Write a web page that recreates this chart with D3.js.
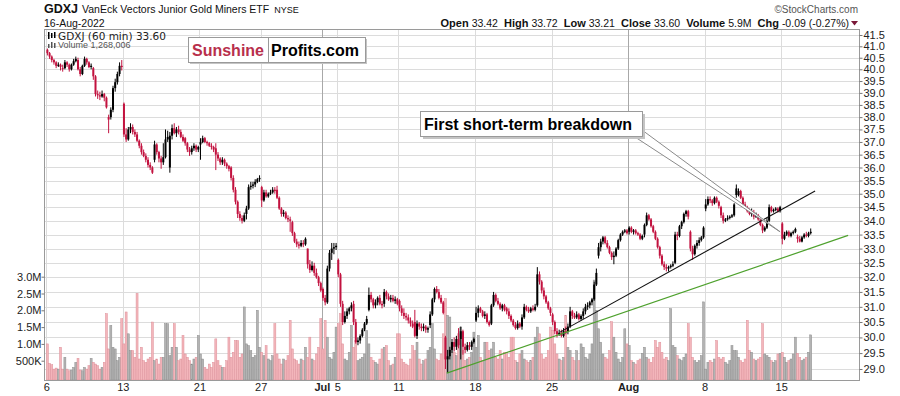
<!DOCTYPE html>
<html>
<head>
<meta charset="utf-8">
<script src="https://cdn.jsdelivr.net/npm/d3@7"></script>
<style>
  body { margin: 0; background: #fff; }
  svg { display: block; font-family: "Liberation Sans", Arial, sans-serif; }
</style>
</head>
<body>
<svg id="chart" width="900" height="396"></svg>
<script>
// GDXJ 60 min bars, 7 bars per trading day, 6-Jun-2022 .. 16-Aug-2022 (50 days)
var opens = [
  40.85, 40.7, 40.55, 40.4, 40.3, 40.15, 40.2,
  40.05, 40.05, 40.3, 40.2, 40.0, 40.2, 40.35,
  40.4, 40.0, 39.8, 40.15, 40.45, 40.3, 40.1,
  40.05, 39.7, 38.95, 38.9, 38.85, 38.95, 38.8,
  37.9, 38.0, 38.3, 39.2, 39.45, 39.8, 40.15,
  38.55, 37.3, 37.1, 37.5, 37.6, 37.4, 37.3,
  37.05, 36.85, 36.6, 36.45, 36.3, 36.1, 36.0,
  36.3, 36.9, 36.6, 36.35, 36.2, 36.4, 37.1,
  36.0, 37.25, 37.55, 37.35, 37.5, 37.4, 37.2,
  37.15, 36.95, 36.7, 36.6, 36.75, 36.85, 36.7,
  36.9, 37.0, 37.15, 37.0, 36.95, 36.85, 36.8,
  36.75, 36.5, 36.35, 36.2, 36.3, 36.15, 36.05,
  36.0, 35.6, 35.15, 34.7, 34.25, 34.1, 34.0,
  34.25, 34.45, 35.25, 35.3, 35.35, 35.45, 35.55,
  35.25, 34.75, 35.05, 34.9, 35.0, 35.05, 35.15,
  35.15, 34.85, 34.45, 34.25, 34.3, 34.1, 34.05,
  33.95, 33.55, 33.25, 33.15, 33.1, 33.2, 33.15,
  33.0, 32.45, 32.25, 32.4, 32.15, 32.0, 31.8,
  31.6, 31.3, 31.15, 32.3, 32.85, 33.0, 33.05,
  32.6, 32.1, 31.1, 30.5, 30.7, 30.85, 30.95,
  31.1, 30.5, 29.85, 29.9, 30.05, 30.25, 30.45,
  30.9, 31.4, 31.25, 31.05, 31.15, 31.3, 31.1,
  31.1, 31.5, 31.35, 31.25, 31.3, 31.2, 31.25,
  31.2, 30.95, 30.8, 30.7, 30.65, 30.55, 30.45,
  30.5, 30.05, 30.45, 30.35, 30.3, 30.35, 30.25,
  30.4, 30.75, 31.25, 31.6, 31.5, 31.3, 31.15,
  30.0, 29.3, 29.4, 29.6, 29.85, 29.7, 29.95,
  29.95, 30.2, 29.7, 29.6, 29.75, 29.7, 29.85,
  30.55, 30.8, 30.95, 30.85, 30.7, 30.75, 30.5,
  30.45, 31.05, 31.4, 31.2, 31.1, 30.95, 31.05,
  30.95, 30.85, 30.7, 30.55, 30.4, 30.3, 30.45,
  30.35, 30.65, 31.0, 30.9, 30.85, 30.95, 30.9,
  31.05, 32.1, 31.85, 31.55, 31.35, 31.15, 30.95,
  30.75, 30.5, 30.2, 30.1, 30.15, 30.05, 30.2,
  30.2, 30.35, 30.85, 30.7, 30.65, 30.75, 30.6,
  30.7, 30.85, 31.0, 31.05, 31.15, 31.25, 31.75,
  32.75, 33.05, 33.25, 33.4, 33.2, 33.05, 32.85,
  32.7, 32.75, 33.0, 33.3, 33.5, 33.6, 33.65,
  33.6, 33.75, 33.6, 33.65, 33.55, 33.5, 33.35,
  33.5, 33.85, 34.2, 34.05, 33.8, 33.6, 33.35,
  33.05, 32.75, 32.45, 32.35, 32.3, 32.35, 32.4,
  32.5, 33.5, 33.45, 33.8, 33.95, 34.25, 34.35,
  33.6, 33.0, 32.8, 33.1, 33.2, 33.3, 33.4,
  34.45, 34.6, 34.8, 34.75, 34.65, 34.85, 34.7,
  34.5, 34.2, 34.0, 34.05, 34.1, 34.15, 34.2,
  35.2, 34.95, 35.1, 34.85, 34.6, 34.5, 34.35,
  34.25, 34.3, 34.15, 34.2, 34.05, 33.85, 33.65,
  33.75, 34.0, 34.5, 34.35, 34.4, 34.45, 34.35,
  33.9, 33.35, 33.5, 33.6, 33.45, 33.55, 33.6,
  33.42, 33.35, 33.25, 33.4, 33.5, 33.45, 33.55
]
var highs = [
  40.9, 40.75, 40.6, 40.45, 40.35, 40.3, 40.25,
  40.2, 40.4, 40.35, 40.25, 40.25, 40.45, 40.55,
  40.5, 40.1, 40.2, 40.55, 40.5, 40.35, 40.25,
  40.1, 39.75, 39.1, 39.05, 39.1, 39.0, 38.85,
  38.1, 38.4, 39.3, 39.6, 39.9, 40.3, 40.4,
  38.6, 37.55, 37.6, 37.75, 37.7, 37.5, 37.4,
  37.1, 36.95, 36.7, 36.55, 36.4, 36.2, 36.05,
  37.05, 36.95, 36.65, 36.45, 36.95, 37.5, 37.45,
  37.4, 37.7, 37.75, 37.6, 37.65, 37.5, 37.3,
  37.2, 37.0, 36.8, 36.85, 36.95, 36.9, 36.85,
  37.15, 37.25, 37.2, 37.05, 37.0, 36.95, 36.85,
  36.95, 36.6, 36.4, 36.4, 36.35, 36.2, 36.1,
  36.05, 35.7, 35.25, 34.75, 34.35, 34.2, 34.3,
  34.55, 35.35, 35.45, 35.45, 35.55, 35.6, 35.7,
  35.3, 35.15, 35.15, 35.05, 35.15, 35.25, 35.25,
  35.3, 34.9, 34.5, 34.4, 34.35, 34.2, 34.15,
  34.0, 33.6, 33.35, 33.25, 33.3, 33.3, 33.4,
  33.0, 32.6, 32.55, 32.5, 32.3, 32.05, 31.85,
  31.65, 31.4, 32.4, 32.95, 33.2, 33.2, 33.2,
  32.65, 32.15, 31.2, 30.85, 30.95, 31.0, 31.15,
  31.2, 30.6, 30.0, 30.1, 30.3, 30.5, 30.7,
  31.65, 31.5, 31.3, 31.25, 31.35, 31.4, 31.2,
  31.6, 31.55, 31.45, 31.4, 31.4, 31.35, 31.3,
  31.25, 31.05, 30.95, 30.8, 30.75, 30.65, 30.55,
  30.9, 30.55, 30.5, 30.45, 30.45, 30.4, 30.35,
  30.85, 31.3, 31.65, 31.7, 31.6, 31.4, 31.2,
  30.05, 29.6, 29.7, 29.95, 30.0, 30.05, 30.3,
  30.35, 30.25, 29.8, 29.85, 29.85, 29.9, 30.0,
  31.0, 31.05, 31.0, 30.9, 30.85, 30.8, 30.55,
  31.1, 31.5, 31.45, 31.3, 31.15, 31.1, 31.1,
  31.0, 30.95, 30.75, 30.6, 30.5, 30.55, 30.5,
  30.75, 31.1, 31.05, 31.0, 31.0, 31.05, 31.1,
  32.35, 32.2, 31.9, 31.65, 31.4, 31.2, 31.0,
  30.8, 30.55, 30.3, 30.25, 30.25, 30.3, 30.35,
  30.45, 31.0, 30.9, 30.8, 30.85, 30.8, 30.75,
  30.95, 31.1, 31.15, 31.2, 31.3, 31.85, 32.3,
  33.2, 33.35, 33.45, 33.45, 33.3, 33.1, 32.9,
  32.9, 33.05, 33.35, 33.55, 33.65, 33.7, 33.7,
  33.8, 33.8, 33.7, 33.7, 33.6, 33.55, 33.5,
  33.9, 34.3, 34.25, 34.1, 33.85, 33.65, 33.4,
  33.1, 32.8, 32.55, 32.45, 32.4, 32.45, 32.55,
  33.6, 33.6, 33.85, 34.0, 34.3, 34.4, 34.4,
  33.65, 33.1, 33.15, 33.3, 33.4, 33.45, 33.8,
  34.8, 34.9, 34.9, 34.8, 34.9, 34.9, 34.75,
  34.55, 34.3, 34.1, 34.2, 34.2, 34.25, 34.65,
  35.35, 35.2, 35.15, 34.9, 34.7, 34.55, 34.45,
  34.45, 34.4, 34.3, 34.25, 34.1, 33.9, 33.8,
  34.1, 34.6, 34.55, 34.45, 34.5, 34.5, 34.55,
  33.95, 33.6, 33.65, 33.65, 33.6, 33.65, 33.75,
  33.5, 33.45, 33.45, 33.55, 33.6, 33.6, 33.72
]
var lows = [
  40.6, 40.45, 40.3, 40.2, 40.05, 40.1, 39.95,
  39.9, 40.0, 40.1, 39.9, 39.95, 40.15, 40.3,
  39.95, 39.7, 39.75, 40.1, 40.2, 40.05, 40.0,
  39.55, 38.85, 38.75, 38.7, 38.8, 38.65, 38.35,
  37.35, 37.9, 38.2, 39.05, 39.35, 39.7, 39.95,
  37.2, 37.0, 37.05, 37.35, 37.3, 37.2, 37.0,
  36.75, 36.5, 36.4, 36.2, 36.0, 35.9, 35.75,
  36.2, 36.5, 36.2, 35.95, 36.1, 36.35, 37.0,
  35.8, 37.1, 37.3, 37.2, 37.3, 37.15, 37.0,
  36.85, 36.6, 36.45, 36.5, 36.65, 36.6, 36.6,
  36.3, 36.95, 36.95, 36.85, 36.8, 36.7, 36.6,
  35.9, 36.25, 36.1, 36.1, 36.05, 35.95, 35.85,
  35.5, 35.05, 34.6, 34.1, 34.0, 33.9, 33.95,
  34.05, 34.4, 35.15, 35.2, 35.25, 35.4, 35.45,
  34.5, 34.7, 34.85, 34.85, 34.95, 35.0, 35.0,
  34.8, 34.4, 34.15, 34.15, 34.05, 33.95, 33.6,
  33.45, 33.2, 33.05, 33.0, 33.05, 33.05, 33.1,
  32.3, 32.15, 32.2, 32.05, 31.95, 31.7, 31.5,
  31.2, 31.05, 31.1, 32.2, 32.6, 32.8, 32.95,
  32.0, 31.0, 30.4, 30.45, 30.6, 30.75, 30.85,
  30.4, 29.8, 29.75, 29.8, 30.0, 30.2, 30.4,
  30.85, 31.15, 30.95, 30.95, 31.05, 31.05, 30.95,
  31.0, 31.25, 31.2, 31.15, 31.15, 31.1, 31.05,
  30.85, 30.7, 30.6, 30.55, 30.45, 30.35, 30.3,
  30.0, 29.95, 30.25, 30.2, 30.2, 30.15, 30.15,
  30.3, 30.7, 31.15, 31.45, 31.25, 31.1, 30.75,
  29.0, 28.88, 29.3, 29.5, 29.55, 29.6, 29.65,
  29.3, 29.45, 29.5, 29.55, 29.6, 29.6, 29.8,
  30.5, 30.65, 30.8, 30.65, 30.6, 30.45, 30.35,
  30.4, 31.0, 31.15, 31.05, 30.9, 30.85, 30.85,
  30.75, 30.6, 30.5, 30.35, 30.25, 30.25, 30.3,
  30.25, 30.6, 30.85, 30.8, 30.8, 30.85, 30.85,
  31.0, 31.75, 31.45, 31.25, 31.1, 30.9, 30.7,
  30.4, 30.1, 30.0, 30.05, 30.0, 30.0, 30.1,
  30.1, 30.3, 30.6, 30.6, 30.6, 30.55, 30.55,
  30.6, 30.75, 30.9, 30.95, 31.05, 31.2, 31.7,
  32.65, 32.9, 33.15, 33.15, 33.0, 32.8, 32.6,
  32.45, 32.7, 32.95, 33.25, 33.45, 33.55, 33.5,
  33.5, 33.55, 33.5, 33.5, 33.45, 33.3, 33.3,
  33.4, 33.8, 34.0, 33.75, 33.55, 33.3, 33.0,
  32.65, 32.4, 32.25, 32.2, 32.2, 32.3, 32.35,
  32.45, 33.3, 33.4, 33.7, 33.9, 34.15, 34.05,
  32.9, 32.6, 32.75, 33.0, 33.1, 33.25, 33.35,
  34.35, 34.55, 34.65, 34.55, 34.6, 34.65, 34.45,
  34.1, 33.9, 33.95, 34.0, 34.05, 34.1, 34.15,
  34.85, 34.9, 34.8, 34.55, 34.45, 34.3, 34.2,
  34.15, 34.05, 34.1, 34.0, 33.8, 33.55, 33.6,
  33.7, 33.95, 34.3, 34.3, 34.35, 34.3, 34.3,
  33.15, 33.3, 33.45, 33.4, 33.4, 33.5, 33.55,
  33.21, 33.22, 33.22, 33.35, 33.4, 33.4, 33.5
]
var closes = [
  40.7, 40.55, 40.4, 40.3, 40.15, 40.2, 40.1,
  40.05, 40.3, 40.2, 40.0, 40.2, 40.35, 40.45,
  40.0, 39.8, 40.15, 40.45, 40.3, 40.1, 40.15,
  39.7, 38.95, 38.9, 38.85, 38.95, 38.8, 38.4,
  38.0, 38.3, 39.2, 39.45, 39.8, 40.15, 40.1,
  37.3, 37.1, 37.5, 37.6, 37.4, 37.3, 37.05,
  36.85, 36.6, 36.45, 36.3, 36.1, 36.0, 35.8,
  36.9, 36.6, 36.35, 36.2, 36.4, 37.1, 37.2,
  37.25, 37.55, 37.35, 37.5, 37.4, 37.2, 37.05,
  36.95, 36.7, 36.6, 36.75, 36.85, 36.7, 36.8,
  37.0, 37.15, 37.0, 36.95, 36.85, 36.8, 36.7,
  36.5, 36.35, 36.2, 36.3, 36.15, 36.05, 35.95,
  35.6, 35.15, 34.7, 34.25, 34.1, 34.0, 34.2,
  34.45, 35.25, 35.3, 35.35, 35.45, 35.55, 35.6,
  34.75, 35.05, 34.9, 35.0, 35.05, 35.15, 35.1,
  34.85, 34.45, 34.25, 34.3, 34.1, 34.05, 34.0,
  33.55, 33.25, 33.15, 33.1, 33.2, 33.15, 33.35,
  32.45, 32.25, 32.4, 32.15, 32.0, 31.8, 31.55,
  31.3, 31.15, 32.3, 32.85, 33.0, 33.05, 33.1,
  32.1, 31.1, 30.5, 30.7, 30.85, 30.95, 31.05,
  30.5, 29.85, 29.9, 30.05, 30.25, 30.45, 30.6,
  31.4, 31.25, 31.05, 31.15, 31.3, 31.1, 31.05,
  31.5, 31.35, 31.25, 31.3, 31.2, 31.25, 31.1,
  30.95, 30.8, 30.7, 30.65, 30.55, 30.45, 30.35,
  30.05, 30.45, 30.35, 30.3, 30.35, 30.25, 30.3,
  30.75, 31.25, 31.6, 31.5, 31.3, 31.15, 30.8,
  29.3, 29.4, 29.6, 29.85, 29.7, 29.95, 29.75,
  30.2, 29.7, 29.6, 29.75, 29.7, 29.85, 29.95,
  30.8, 30.95, 30.85, 30.7, 30.75, 30.5, 30.4,
  31.05, 31.4, 31.2, 31.1, 30.95, 31.05, 30.9,
  30.85, 30.7, 30.55, 30.4, 30.3, 30.45, 30.35,
  30.65, 31.0, 30.9, 30.85, 30.95, 30.9, 31.0,
  32.1, 31.85, 31.55, 31.35, 31.15, 30.95, 30.8,
  30.5, 30.2, 30.1, 30.15, 30.05, 30.2, 30.15,
  30.35, 30.85, 30.7, 30.65, 30.75, 30.6, 30.7,
  30.85, 31.0, 31.05, 31.15, 31.25, 31.75, 32.15,
  33.05, 33.25, 33.4, 33.2, 33.05, 32.85, 32.7,
  32.75, 33.0, 33.3, 33.5, 33.6, 33.65, 33.55,
  33.75, 33.6, 33.65, 33.55, 33.5, 33.35, 33.45,
  33.85, 34.2, 34.05, 33.8, 33.6, 33.35, 33.05,
  32.75, 32.45, 32.35, 32.3, 32.35, 32.4, 32.45,
  33.5, 33.45, 33.8, 33.95, 34.25, 34.35, 34.15,
  33.0, 32.8, 33.1, 33.2, 33.3, 33.4, 33.75,
  34.6, 34.8, 34.75, 34.65, 34.85, 34.7, 34.55,
  34.2, 34.0, 34.05, 34.1, 34.15, 34.2, 34.6,
  34.95, 35.1, 34.85, 34.6, 34.5, 34.35, 34.25,
  34.3, 34.15, 34.2, 34.05, 33.85, 33.65, 33.75,
  34.0, 34.5, 34.35, 34.4, 34.45, 34.35, 34.5,
  33.35, 33.5, 33.6, 33.45, 33.55, 33.6, 33.7,
  33.35, 33.25, 33.4, 33.5, 33.45, 33.55, 33.6
]
// volume per bar, millions of shares
var volumes = [
  1.0, 0.42, 0.38, 0.25, 0.28, 0.25, 0.9,
  0.25, 0.6, 0.25, 0.2, 0.22, 0.3, 0.45,
  0.57, 0.22, 0.2, 0.3, 0.25, 0.35, 0.57,
  0.45, 0.4, 0.35, 0.25, 0.3, 0.45, 1.9,
  0.85, 1.55, 0.9, 0.85, 0.5, 0.6, 1.75,
  1.0, 1.95, 1.3, 0.8, 0.8, 0.6, 2.5,
  0.55, 0.9, 0.5, 0.45, 0.55, 0.6, 1.65,
  0.5, 0.55, 0.4, 0.6, 0.6, 1.6, 1.6,
  0.65, 0.9, 1.6, 0.9, 0.5, 0.55, 1.25,
  0.7, 0.6, 0.5, 0.4, 0.55, 0.6, 1.25,
  0.7, 0.55, 0.3, 0.25, 0.4, 0.3, 0.45,
  1.15, 0.5, 0.35, 0.3, 0.3, 0.5, 1.2,
  0.6, 0.75, 1.1, 1.1, 0.6, 0.7, 2.1,
  1.0, 0.95, 0.8, 0.6, 0.65, 2.0, 0.9,
  0.75, 0.65, 0.95, 0.55, 0.5, 0.65, 1.6,
  0.7, 0.55, 0.4, 0.55, 0.5, 0.65, 1.7,
  0.85, 0.55, 0.5, 0.4, 0.55, 0.5, 0.9,
  0.6, 1.2, 0.55, 0.5, 0.7, 0.9, 1.75,
  0.85, 1.7, 1.2, 0.6, 0.55, 0.75, 1.5,
  1.6, 1.9, 1.0, 0.55, 0.5, 0.75, 1.55,
  0.9, 1.1, 0.5, 0.55, 0.6, 0.7, 1.4,
  1.0, 0.6, 0.5, 0.45, 0.4, 0.55, 0.85,
  0.9, 0.95, 0.5, 0.35, 0.4, 0.6, 1.3,
  1.3, 0.55, 0.45, 0.4, 0.35, 0.55, 0.95,
  0.8, 1.05, 0.55, 0.4, 0.5, 0.55, 0.8,
  0.9, 1.6, 0.85, 0.55, 0.5, 0.7, 1.3,
  2.35, 1.85, 1.8, 1.05, 0.75, 0.65, 1.3,
  1.5, 0.8, 0.5, 0.55, 0.6, 0.75, 1.35,
  0.9, 1.25, 0.6, 0.5, 1.05, 1.05, 0.8,
  0.85, 1.05, 0.6, 0.55, 0.8, 0.55, 0.75,
  0.75, 0.6, 1.2, 1.2, 0.5, 0.45, 0.7,
  0.8, 0.55, 0.5, 0.45, 0.5, 0.6, 1.2,
  1.5, 1.3, 0.7, 0.55, 0.6, 0.8, 1.5,
  1.4, 1.0, 0.7, 0.55, 0.5, 0.6, 1.85,
  0.9, 0.8, 0.6, 0.5, 0.8, 0.5, 1.0,
  0.9, 0.6, 0.55, 0.7, 1.0, 2.9, 2.0,
  1.45, 1.05, 0.7, 0.6, 0.55, 0.8, 1.66,
  1.2, 0.75, 0.55, 0.45, 0.6, 1.45, 1.0,
  0.95, 0.5, 0.45, 0.4, 0.5, 0.55, 0.72,
  0.9, 0.6, 0.55, 0.45, 0.6, 1.1, 0.9,
  1.05, 0.75, 0.55, 0.6, 0.5, 2.05, 0.95,
  0.9, 0.65, 0.55, 0.5, 0.6, 0.7, 1.6,
  1.2, 0.6, 0.5, 0.45, 0.5, 0.65, 2.25,
  0.25, 0.45, 0.5, 0.45, 0.55, 1.1, 0.6,
  0.55, 0.6, 0.45, 0.4, 0.5, 0.95, 0.8,
  0.8, 0.6, 0.5, 0.45, 0.55, 1.7, 0.8,
  0.75, 0.55, 0.5, 0.55, 0.6, 1.6, 0.7,
  0.65, 0.6, 0.5, 0.45, 0.5, 0.7, 0.72,
  0.75, 0.6, 0.45, 0.5, 0.55, 0.7, 1.2,
  0.72, 0.6, 0.5, 0.55, 0.6, 0.75, 1.268
]

var barsPerDay = 7
var tickDays = [0, 5, 10, 14, 18, 19, 23, 28, 33, 38, 43, 48]
var tickLabels = ["6", "13", "21", "27", "Jul", "5", "11", "18", "25", "Aug", "8", "15"]
var monthLabels = ["Jul", "Aug"]
var priceTicks = [29.0, 29.5, 30.0, 30.5, 31.0, 31.5, 32.0, 32.5, 33.0, 33.5, 34.0, 34.5, 35.0,
                  35.5, 36.0, 36.5, 37.0, 37.5, 38.0, 38.5, 39.0, 39.5, 40.0, 40.5, 41.0, 41.5]
var volumeTicks = [0.5, 1.0, 1.5, 2.0, 2.5, 3.0]
var volumeTickLabels = ["500K", "1.0M", "1.5M", "2.0M", "2.5M", "3.0M"]

// trend lines: [bar position, price]
var blackTrend = [[234.9, 30.17], [351.5, 35.10]]
var greenTrend = [[183.1, 28.87], [366.6, 33.47]]
var breakdownPoint = [335.5, 33.6]

var plot = {left: 44, right: 859, top: 29, bottom: 380}

var svg = d3.select("#chart")

var x = d3.scaleLinear().domain([0, closes.length]).range([46.3, 811.8])
var y = d3.scaleLog().domain([29, 41.5]).range([369, 35])
var yVol = d3.scaleLinear().domain([0, 3]).range([377.5, 276.7])

var bars = closes.map(function(c, i) {
    var prev = i === 0 ? opens[0] : closes[i - 1]
    return {i: i, o: opens[i], h: highs[i], l: lows[i], c: c, v: volumes[i], up: c >= prev}
})

svg.append("defs").append("clipPath").attr("id", "plotclip")
    .append("rect")
    .attr("x", plot.left).attr("y", plot.top)
    .attr("width", plot.right - plot.left).attr("height", plot.bottom - plot.top)

// horizontal grid
svg.append("g")
    .selectAll("line")
    .data(priceTicks)
    .enter()
    .append("line")
    .attr("x1", plot.left).attr("x2", plot.right)
    .attr("y1", d => Math.round(y(d)) + 0.5).attr("y2", d => Math.round(y(d)) + 0.5)
    .attr("stroke", "#dcdcdc")

// vertical grid
svg.append("g")
    .selectAll("line")
    .data(tickDays)
    .enter()
    .append("line")
    .attr("x1", d => Math.round(x(d * barsPerDay)) + 0.5)
    .attr("x2", d => Math.round(x(d * barsPerDay)) + 0.5)
    .attr("y1", plot.top).attr("y2", plot.bottom)
    .attr("stroke", (d, i) => monthLabels.indexOf(tickLabels[i]) >= 0 ? "#a8a8a8" : "#dcdcdc")

var g = svg.append("g").attr("clip-path", "url(#plotclip)")

// volume
var bw = x(1) - x(0)
g.append("g")
    .selectAll("rect")
    .data(bars)
    .enter()
    .append("rect")
    .attr("x", d => x(d.i) + 0.1)
    .attr("width", bw - 0.2)
    .attr("y", d => yVol(d.v))
    .attr("height", d => plot.bottom - yVol(d.v))
    .attr("fill", d => d.up ? "#b3b3b3" : "#f3b6bb")
    .attr("stroke", d => d.up ? "#8d8d8d" : "#de8f99")
    .attr("stroke-width", 0.5)

// candles
var candles = g.append("g").selectAll("g").data(bars).enter().append("g")
candles.append("line")
    .attr("x1", d => x(d.i + 0.5)).attr("x2", d => x(d.i + 0.5))
    .attr("y1", d => y(d.h)).attr("y2", d => y(d.l))
    .attr("stroke", d => d.up ? "#000" : "#c2123f")
    .attr("stroke-width", 1)
candles.append("rect")
    .attr("x", d => x(d.i + 0.5) - 1)
    .attr("width", 2)
    .attr("y", d => y(Math.max(d.o, d.c)))
    .attr("height", d => Math.max(1, y(Math.min(d.o, d.c)) - y(Math.max(d.o, d.c))))
    .attr("fill", d => d.up ? "#000" : "#c2123f")

// trend lines
var trend = d3.line().x(d => x(d[0])).y(d => y(d[1]))
g.append("path").attr("d", trend(greenTrend))
    .attr("fill", "none").attr("stroke", "#4ea12d").attr("stroke-width", 1.2)
g.append("path").attr("d", trend(blackTrend))
    .attr("fill", "none").attr("stroke", "#111").attr("stroke-width", 1.1)

// frame
svg.append("rect")
    .attr("x", plot.left + 0.5).attr("y", plot.top + 0.5)
    .attr("width", plot.right - plot.left).attr("height", plot.bottom - plot.top)
    .attr("fill", "none").attr("stroke", "#9a9a9a")

// right price axis
var yAxis = svg.append("g")
    .attr("transform", "translate(" + (plot.right + 0.5) + ",0)")
    .call(d3.axisRight(y).tickValues(priceTicks).tickFormat(d3.format(".1f")).tickSize(3).tickPadding(1))
yAxis.select(".domain").remove()
yAxis.selectAll("line").attr("stroke", "#777")
yAxis.selectAll("text").attr("font-size", 11).attr("fill", "#222")
    .attr("font-family", "Liberation Sans, Arial, sans-serif")

// left volume axis
var vAxis = svg.append("g")
    .attr("transform", "translate(" + (plot.left + 0.5) + ",0)")
    .call(d3.axisLeft(yVol).tickValues(volumeTicks).tickFormat((d, i) => volumeTickLabels[i]).tickSize(3).tickPadding(0))
vAxis.select(".domain").remove()
vAxis.selectAll("line").attr("stroke", "#777")
vAxis.selectAll("text").attr("font-size", 11).attr("fill", "#222")
    .attr("font-family", "Liberation Sans, Arial, sans-serif")

// date axis
var xAxis = svg.append("g")
    .attr("transform", "translate(0," + plot.bottom + ")")
    .call(d3.axisBottom(x).tickValues(tickDays.map(d => d * barsPerDay))
        .tickFormat((d, i) => tickLabels[i]).tickSize(0).tickPadding(3))
xAxis.select(".domain").remove()
xAxis.selectAll("text").attr("font-size", 11).attr("fill", "#222")
    .attr("font-family", "Liberation Sans, Arial, sans-serif")
    .attr("font-weight", (d, i) => monthLabels.indexOf(tickLabels[i]) >= 0 ? "bold" : "normal")

// header
var head = svg.append("text").attr("x", 44).attr("y", 13).attr("fill", "#111")
head.append("tspan").attr("font-size", 12.5).attr("font-weight", "bold").text("GDXJ")
head.append("tspan").attr("font-size", 10.5).attr("dx", 4).text("VanEck Vectors Junior Gold Miners ETF")
head.append("tspan").attr("font-size", 9).attr("dx", 5).text("NYSE")
svg.append("text").attr("x", 44).attr("y", 26.5).attr("font-size", 10.5).attr("fill", "#111").text("16-Aug-2022")
svg.append("text").attr("x", 858).attr("y", 13).attr("text-anchor", "end")
    .attr("font-size", 10).attr("fill", "#555").text("\u00a9StockCharts.com")

var quote = [["Open", "33.42"], ["High", "33.72"], ["Low", "33.21"], ["Close", "33.60"],
             ["Volume", "5.9M"], ["Chg", "-0.09 (-0.27%)"]]
var qt = svg.append("text").attr("x", 849).attr("y", 26.5).attr("text-anchor", "end")
    .attr("font-size", 11).attr("fill", "#111")
quote.forEach(function(q, i) {
    qt.append("tspan").attr("font-weight", "bold").attr("dx", i === 0 ? 0 : 6).text(q[0])
    qt.append("tspan").attr("dx", 3).attr("font-size", 10.5).text(q[1])
})
svg.append("path").attr("d", "M851,21 L858,21 L854.5,25.5 Z").attr("fill", "#7a1838")

// legend inside the plot
svg.append("rect").attr("x", 48).attr("y", 32).attr("width", 1.5).attr("height", 7).attr("fill", "#000")
svg.append("rect").attr("x", 51).attr("y", 33).attr("width", 1.5).attr("height", 5).attr("fill", "#000")
svg.append("rect").attr("x", 54).attr("y", 32).attr("width", 1.5).attr("height", 6).attr("fill", "#000")
svg.append("text").attr("x", 58).attr("y", 39.5).attr("font-size", 10.5)
    .attr("font-family", "DejaVu Sans, Verdana, sans-serif").attr("fill", "#222")
    .text("GDXJ (60 min) 33.60")
svg.append("rect").attr("x", 48).attr("y", 44).attr("width", 1.5).attr("height", 4).attr("fill", "#555")
svg.append("rect").attr("x", 51).attr("y", 42).attr("width", 1.5).attr("height", 6).attr("fill", "#555")
svg.append("rect").attr("x", 54).attr("y", 43).attr("width", 1.5).attr("height", 5).attr("fill", "#555")
svg.append("text").attr("x", 58).attr("y", 48).attr("font-size", 9).attr("fill", "#555")
    .text("Volume 1,268,006")

// Sunshine Profits badge
svg.append("rect").attr("x", 190).attr("y", 39).attr("width", 177).attr("height", 25).attr("fill", "#c4c4c4")
svg.append("rect").attr("x", 188.5).attr("y", 37.5).attr("width", 177).attr("height", 25)
    .attr("fill", "#fff").attr("stroke", "#9a9a9a")
svg.append("line").attr("x1", 268.5).attr("x2", 268.5).attr("y1", 37.5).attr("y2", 62.5).attr("stroke", "#9a9a9a")
svg.append("text").attr("x", 192).attr("y", 55.5).attr("font-size", 16).attr("font-weight", "bold")
    .attr("fill", "#b82f4c").text("Sunshine")
svg.append("text").attr("x", 271).attr("y", 55.5).attr("font-size", 16).attr("font-weight", "bold")
    .attr("fill", "#000").text("Profits.com")

// callout
var tipX = x(breakdownPoint[0]), tipY = y(breakdownPoint[1])
svg.append("path")
    .attr("d", "M635,137 L" + tipX + "," + tipY + " L642,130 Z")
    .attr("fill", "#fff").attr("stroke", "#8a8a8a").attr("stroke-width", 1)
svg.append("rect").attr("x", 423).attr("y", 114).attr("width", 222).attr("height", 25).attr("fill", "#c4c4c4")
svg.append("rect").attr("x", 420.5).attr("y", 111.5).attr("width", 222).attr("height", 25)
    .attr("fill", "#fff").attr("stroke", "#9a9a9a")
svg.append("text").attr("x", 424).attr("y", 129.5).attr("font-size", 16).attr("font-weight", "bold")
    .attr("fill", "#000").text("First short-term breakdown")
</script>
</body>
</html>
